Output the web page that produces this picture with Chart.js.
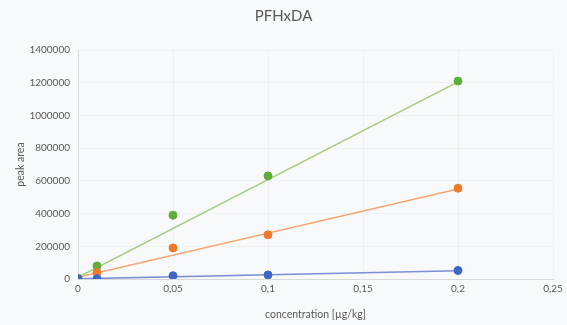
<!DOCTYPE html>
<html><head><meta charset="utf-8">
<script src="https://cdn.jsdelivr.net/npm/chart.js@4/dist/chart.umd.min.js"></script>
<style>html,body{margin:0;padding:0;background:#f8f9fb;}#wrap{width:567px;height:325px;}</style>
</head><body><div id="wrap"><canvas id="c" width="567" height="325"></canvas></div>
<script>
const concentrations = [0, 0.01, 0.05, 0.1, 0.2];
const greenValues = [5000, 80000, 390000, 630000, 1210000];
const orangeValues = [0, 40000, 190000, 270000, 555000];
const blueValues = [0, 2000, 20000, 25000, 52000];
const trendX = [0, 0.2];
const greenTrend = [10000, 1205000];
const orangeTrend = [10000, 550000];
const blueTrend = [1000, 50000];
const xTickLabels = ['0', '0,05', '0,1', '0,15', '0,2', '0,25'];
const xTickValues = [0, 0.05, 0.1, 0.15, 0.2, 0.25];
const yTickLabels = ['0','200000','400000','600000','800000','1000000','1200000','1400000'];

const pts = (xs, ys) => xs.map((x, i) => ({x: x, y: ys[i]}));
const font = 'Lato, "Open Sans", sans-serif';
const txt = '#595959';

function trend(data, color) {
  return {data: data, showLine: true, borderColor: color, borderWidth: 1.5, pointRadius: 0, fill: false, order: 2};
}
function scatter(data, color) {
  return {data: data, showLine: false, backgroundColor: color, borderColor: color, pointRadius: 4, pointHoverRadius: 4, order: 1};
}

new Chart(document.getElementById('c'), {
  type: 'scatter',
  data: {
    datasets: [
      trend(pts(trendX, blueTrend), '#7b8fd8'),
      trend(pts(trendX, orangeTrend), '#f5a772'),
      trend(pts(trendX, greenTrend), '#a5cc78'),
      scatter(pts(concentrations, blueValues), '#3e66c6'),
      scatter(pts(concentrations, orangeValues), '#f07a2a'),
      scatter(pts(concentrations, greenValues), '#5fad3a')
    ]
  },
  options: {
    responsive: false,
    animation: false,
    layout: {padding: {left: 14, right: 14, top: 0, bottom: 4}},
    plugins: {
      legend: {display: false},
      tooltip: {enabled: false},
      title: {display: true, text: 'PFHxDA', color: txt, font: {family: font, size: 15, weight: 'normal'}, padding: {top: 7, bottom: 25}}
    },
    scales: {
      x: {
        type: 'linear', min: 0, max: 0.25,
        afterBuildTicks: s => { s.ticks = xTickValues.map(v => ({value: v})); },
        afterFit: s => { s.height = 42; },
        ticks: {color: txt, font: {family: font, size: 10}, padding: 4, maxRotation: 0,
          callback: (v, i) => xTickLabels[i]},
        grid: {color: 'rgba(0,0,0,0.03)', drawTicks: false},
        border: {color: '#d9d9d9'},
        title: {display: true, text: 'concentration [µg/kg]', color: txt, font: {family: font, size: 10.5}, padding: {top: 4, bottom: 0}}
      },
      y: {
        type: 'linear', min: 0, max: 1400000,
        afterBuildTicks: s => { s.ticks = yTickLabels.map(v => ({value: Number(v)})); },
        afterFit: s => { s.width = 64; },
        ticks: {color: txt, font: {family: font, size: 10}, padding: 8,
          callback: (v, i) => yTickLabels[i]},
        grid: {color: 'rgba(0,0,0,0.03)', drawTicks: false},
        border: {color: '#d9d9d9'},
        title: {display: true, text: 'peak area', color: txt, font: {family: font, size: 10.5}, padding: {top: 0, bottom: 2}}
      }
    }
  }
});
</script></body></html>
